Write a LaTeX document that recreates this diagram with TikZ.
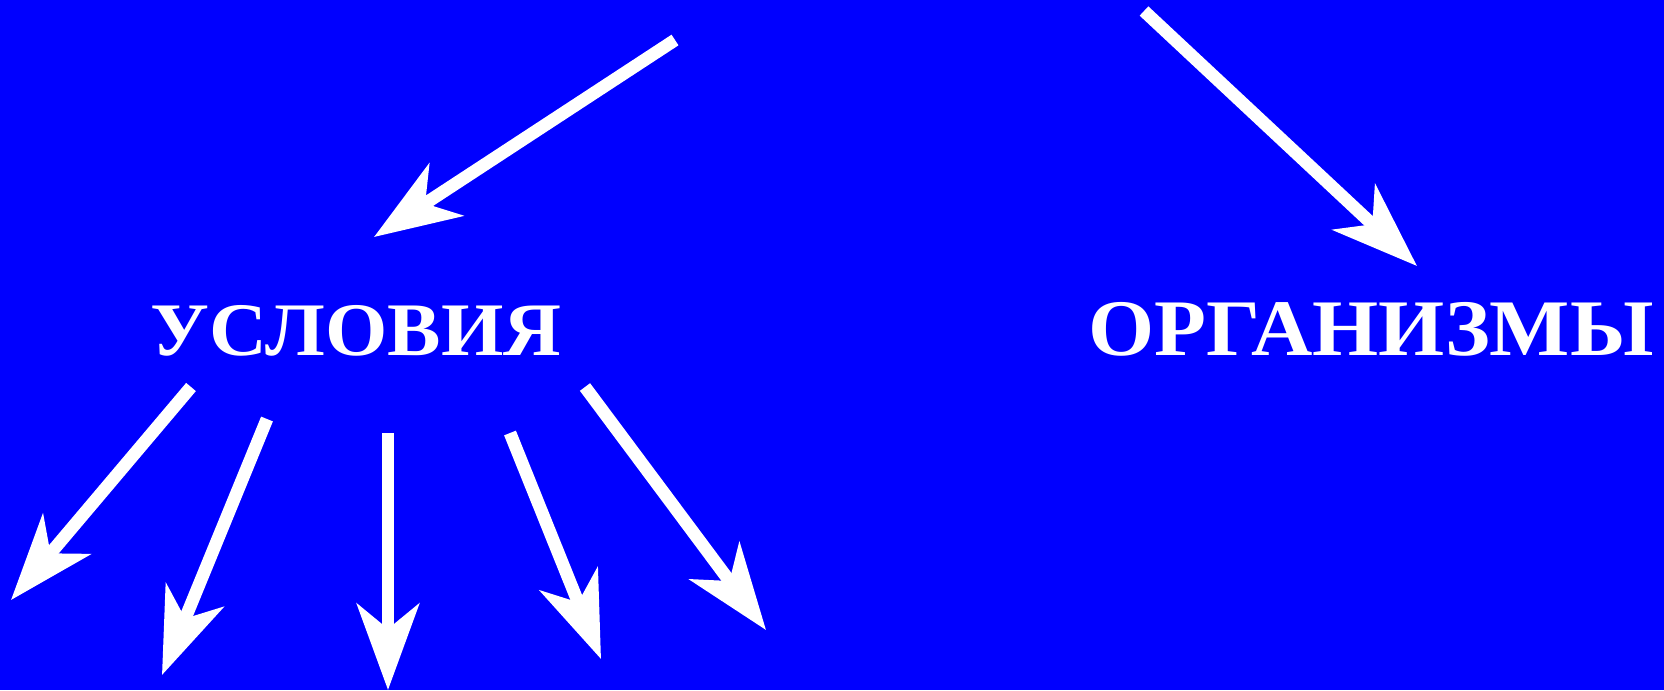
\documentclass[tikz,border=0pt]{standalone}
\usepackage{fontspec}
\setmainfont{Liberation Serif}
\newfontfamily\wordfont{Liberation Serif Bold}[FakeStretch=1.06]
\usepackage{xcolor}
\usetikzlibrary{arrows.meta}

\definecolor{slideblue}{HTML}{0000FF}

\begin{document}
\begin{tikzpicture}[
  x=0.01cm, y=-0.01cm,
  word/.style={text=white, font=\wordfont\fontsize{21.5}{24}\selectfont, anchor=base, inner sep=0pt},
  bigword/.style={word, font=\wordfont\fontsize{22.8}{26}\selectfont},
  arr/.style={white, line width=0.127cm,
              -{Stealth[length=0.86cm, width=0.62cm, inset=0.25cm]}}
]
\fill[slideblue] (0,0) rectangle (1664,690);
\useasboundingbox (0,0) rectangle (1664,690);

\node[word]    (usl) at (356,355) {УСЛОВИЯ};
\node[bigword] (org) at (1371,355) {ОРГАНИЗМЫ};

% upper arrows
\coordinate (s1) at (675,40);   \coordinate (e1) at (374,237);
\coordinate (s2) at (1144,11);  \coordinate (e2) at (1417,266);
\draw[arr] (s1) -- (e1);
\draw[arr] (s2) -- (e2);

% lower arrows
\coordinate (a1) at (191,387);  \coordinate (b1) at (11,600);
\coordinate (a2) at (267,419);  \coordinate (b2) at (162,675);
\coordinate (a3) at (388,433);  \coordinate (b3) at (388,690);
\coordinate (a4) at (510,433);  \coordinate (b4) at (601,659);
\coordinate (a5) at (585,387);  \coordinate (b5) at (766,630);
\foreach \i in {1,...,5}
  \draw[arr] (a\i) -- (b\i);
\end{tikzpicture}
\end{document}
